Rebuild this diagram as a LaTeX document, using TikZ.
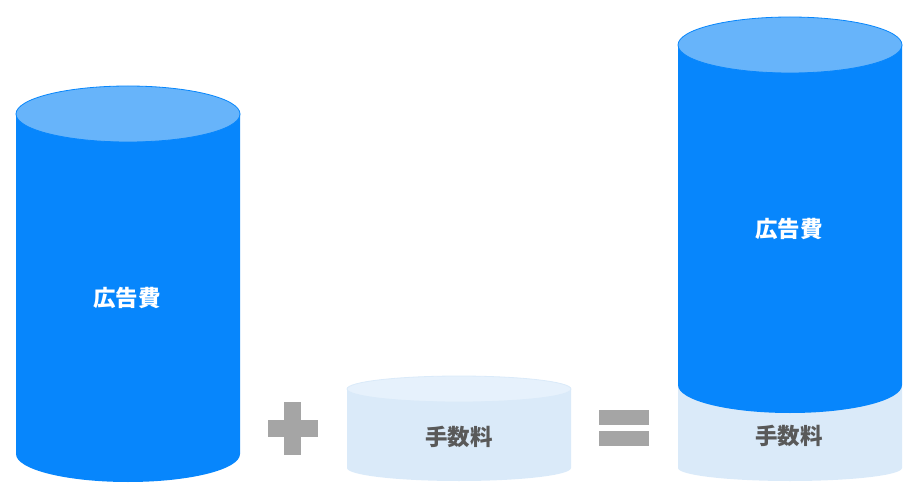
\documentclass[tikz,border=0pt]{standalone}
\usepackage{fontspec}
\newfontfamily\jpfont{Noto Sans CJK JP}
\definecolor{adblue}{RGB}{7,134,252}
\definecolor{adtop}{RGB}{103,180,250}
\definecolor{feebody}{RGB}{218,234,249}
\definecolor{feetop}{RGB}{230,241,252}
\definecolor{signgray}{RGB}{165,165,165}
\definecolor{textgray}{RGB}{89,89,89}
\tikzset{
  adlabel/.style={text=white,font=\jpfont\bfseries\fontsize{22.5}{27}\selectfont},
  feelabel/.style={text=textgray,font=\jpfont\bfseries\fontsize{22.5}{27}\selectfont}
}

\begin{document}
\begin{tikzpicture}[x=1pt,y=1pt]
  \useasboundingbox (0,0) rectangle (921,488);
  % left cylinder
  \fill[adblue] (16,374) -- (16,34) arc[start angle=180,end angle=360,x radius=112,y radius=28] -- (240,374) -- cycle;
  \filldraw[fill=adtop,draw=adblue,line width=0.8pt] (128,374) ellipse [x radius=112,y radius=28];
  \node[adlabel] (adleft) at (127,190) {広告費};
  % plus
  \fill[signgray] (268,51) rectangle (318,68);
  \fill[signgray] (284,33) rectangle (301,86);
  % small cylinder
  \fill[feebody] (347,99) -- (347,20) arc[start angle=180,end angle=360,x radius=112,y radius=13] -- (571,99) -- cycle;
  \filldraw[fill=feetop,draw=feebody,line width=0.8pt] (459,99) ellipse [x radius=112,y radius=13];
  \node[feelabel] (feeleft) at (459,51) {手数料};
  % equals
  \fill[signgray] (599,63) rectangle (649,78);
  \fill[signgray] (599,42) rectangle (649,57);
  % right cylinder
  \fill[feebody] (678,103) -- (678,20) arc[start angle=180,end angle=360,x radius=112,y radius=13] -- (902,103) -- cycle;
  \fill[adblue] (678,443) -- (678,103) arc[start angle=180,end angle=360,x radius=112,y radius=28] -- (902,443) -- cycle;
  \filldraw[fill=adtop,draw=adblue,line width=0.8pt] (790,443) ellipse [x radius=112,y radius=28];
  \node[adlabel] (adright) at (789,259) {広告費};
  \node[feelabel] (feeright) at (789,52) {手数料};
\end{tikzpicture}
\end{document}
